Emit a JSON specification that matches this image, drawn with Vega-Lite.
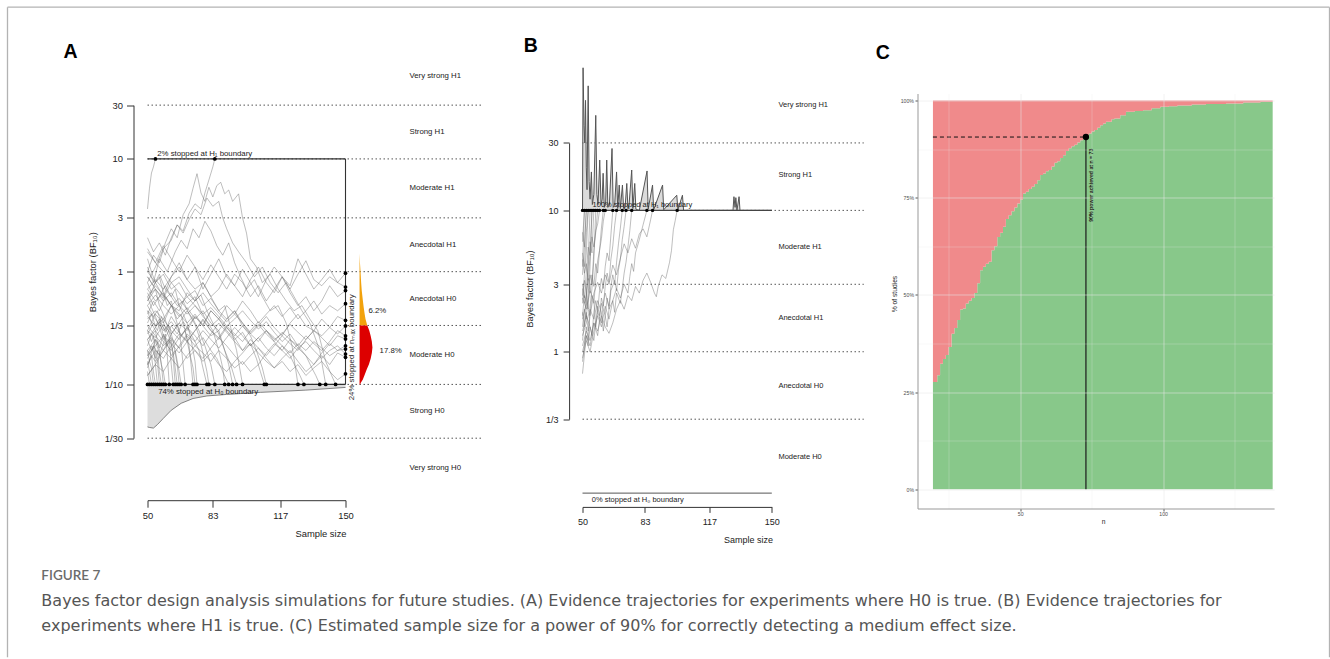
{
"$schema": "https://vega.github.io/schema/vega-lite/v6.json",
"padding": {"left": 6.5, "top": 6.5, "right": 0, "bottom": 0},
"bounds": "flush",
"spacing": 0,
"title": {"text": "FIGURE 7", "subtitle": ["Bayes factor design analysis simulations for future studies. (A) Evidence trajectories for experiments where H0 is true. (B) Evidence trajectories for", "experiments where H1 is true. (C) Estimated sample size for a power of 90% for correctly detecting a medium effect size."], "orient": "top", "anchor": "start", "frame": "bounds", "dx": 34.5, "dy": 631, "font": "Lato", "fontSize": 13.5, "fontWeight": 600, "color": "#6b6b6b", "subtitleFont": "DejaVu Sans", "subtitleFontSize": 16, "subtitleColor": "#555555", "subtitleLineHeight": 25, "subtitlePadding": 10},
"config": {"view": {"stroke": null}, "font": "Liberation Sans"},
"datasets": {
"levelsA": [{"bf":30},{"bf":10},{"bf":3},{"bf":1},{"bf":0.333333},{"bf":0.1},{"bf":0.0333333}],
"levelsB": [{"bf":30},{"bf":10},{"bf":3},{"bf":1},{"bf":0.333333}],
"catA": [{"lab":"Very strong H1","bf":54.77},{"lab":"Strong H1","bf":17.32},{"lab":"Moderate H1","bf":5.477},{"lab":"Anecdotal H1","bf":1.732},{"lab":"Anecdotal H0","bf":0.5774},{"lab":"Moderate H0","bf":0.1826},{"lab":"Strong H0","bf":0.05774},{"lab":"Very strong H0","bf":0.01826}],
"catB": [{"lab":"Very strong H1","bf":55.6},{"lab":"Strong H1","bf":17.8},{"lab":"Moderate H1","bf":5.47},{"lab":"Anecdotal H1","bf":1.73},{"lab":"Anecdotal H0","bf":0.575},{"lab":"Moderate H0","bf":0.181}],
"shadeA": [{"n":50,"bf":0.042},{"n":51,"bf":0.0415},{"n":53,"bf":0.041},{"n":55,"bf":0.044},{"n":58,"bf":0.05},{"n":62,"bf":0.059},{"n":67,"bf":0.068},{"n":73,"bf":0.075},{"n":80,"bf":0.079},{"n":90,"bf":0.0815},{"n":107,"bf":0.085},{"n":130,"bf":0.089},{"n":150,"bf":0.094}],
"violinOrange": [{"bf":1.45,"n":157.1},{"bf":1.2,"n":157.3},{"bf":1.0,"n":157.6},{"bf":0.8,"n":157.9},{"bf":0.68,"n":158.2},{"bf":0.55,"n":158.8},{"bf":0.48,"n":159.2},{"bf":0.42,"n":159.7},{"bf":0.38,"n":160.1},{"bf":0.3333,"n":161.0}],
"violinRed": [{"bf":0.3333,"n":161.0},{"bf":0.3,"n":162.0},{"bf":0.27,"n":162.7},{"bf":0.24,"n":163.3},{"bf":0.212,"n":163.6},{"bf":0.19,"n":163.3},{"bf":0.169,"n":162.7},{"bf":0.15,"n":161.8},{"bf":0.137,"n":160.8},{"bf":0.122,"n":159.7},{"bf":0.11,"n":158.7},{"bf":0.104,"n":157.8},{"bf":0.1,"n":157.4}],
"dotsA": [{"n":50,"bf":0.1},{"n":51,"bf":0.1},{"n":52,"bf":0.1},{"n":53,"bf":0.1},{"n":54,"bf":0.1},{"n":55,"bf":0.1},{"n":56,"bf":0.1},{"n":57,"bf":0.1},{"n":58,"bf":0.1},{"n":59,"bf":0.1},{"n":61,"bf":0.1},{"n":63,"bf":0.1},{"n":64,"bf":0.1},{"n":65,"bf":0.1},{"n":66,"bf":0.1},{"n":67,"bf":0.1},{"n":69,"bf":0.1},{"n":73,"bf":0.1},{"n":74,"bf":0.1},{"n":75,"bf":0.1},{"n":80,"bf":0.1},{"n":81,"bf":0.1},{"n":84,"bf":0.1},{"n":89,"bf":0.1},{"n":91,"bf":0.1},{"n":93,"bf":0.1},{"n":95,"bf":0.1},{"n":98,"bf":0.1},{"n":109,"bf":0.1},{"n":110,"bf":0.1},{"n":126,"bf":0.1},{"n":129,"bf":0.1},{"n":137,"bf":0.1},{"n":140,"bf":0.1},{"n":145,"bf":0.1},{"n":54,"bf":10},{"n":84,"bf":10},{"n":150,"bf":0.97},{"n":150,"bf":0.73},{"n":150,"bf":0.68},{"n":150,"bf":0.52},{"n":150,"bf":0.37},{"n":150,"bf":0.33},{"n":150,"bf":0.27},{"n":150,"bf":0.253},{"n":150,"bf":0.22},{"n":150,"bf":0.206},{"n":150,"bf":0.186},{"n":150,"bf":0.174},{"n":150,"bf":0.124}],
"trajA": [
{"id":"L1","n":50,"bf":0.55},{"id":"L1","n":54,"bf":0.8},{"id":"L1","n":58,"bf":0.6},{"id":"L1","n":62,"bf":0.9},{"id":"L1","n":66,"bf":1.2},{"id":"L1","n":70,"bf":0.85},{"id":"L1","n":74,"bf":1.1},{"id":"L1","n":78,"bf":0.7},{"id":"L1","n":82,"bf":0.95},{"id":"L1","n":86,"bf":1.3},{"id":"L1","n":90,"bf":0.9},{"id":"L1","n":94,"bf":0.75},{"id":"L1","n":98,"bf":1.05},{"id":"L1","n":102,"bf":0.8},{"id":"L1","n":106,"bf":0.6},{"id":"L1","n":110,"bf":0.85},{"id":"L1","n":114,"bf":1.1},{"id":"L1","n":118,"bf":0.9},{"id":"L1","n":122,"bf":0.7},{"id":"L1","n":126,"bf":0.95},{"id":"L1","n":130,"bf":1.25},{"id":"L1","n":134,"bf":0.85},{"id":"L1","n":138,"bf":0.75},{"id":"L1","n":142,"bf":0.9},{"id":"L1","n":146,"bf":0.8},{"id":"L1","n":150,"bf":0.97},
{"id":"L2","n":50,"bf":0.3},{"id":"L2","n":54,"bf":0.42},{"id":"L2","n":58,"bf":0.35},{"id":"L2","n":62,"bf":0.5},{"id":"L2","n":66,"bf":0.45},{"id":"L2","n":70,"bf":0.65},{"id":"L2","n":74,"bf":0.55},{"id":"L2","n":78,"bf":0.8},{"id":"L2","n":82,"bf":0.6},{"id":"L2","n":86,"bf":0.7},{"id":"L2","n":90,"bf":0.95},{"id":"L2","n":94,"bf":0.75},{"id":"L2","n":98,"bf":0.6},{"id":"L2","n":102,"bf":0.85},{"id":"L2","n":106,"bf":1.1},{"id":"L2","n":110,"bf":0.8},{"id":"L2","n":114,"bf":0.65},{"id":"L2","n":118,"bf":0.9},{"id":"L2","n":122,"bf":0.75},{"id":"L2","n":126,"bf":1.3},{"id":"L2","n":130,"bf":0.95},{"id":"L2","n":134,"bf":0.7},{"id":"L2","n":138,"bf":0.85},{"id":"L2","n":142,"bf":1.05},{"id":"L2","n":146,"bf":0.8},{"id":"L2","n":150,"bf":0.73},
{"id":"L3","n":50,"bf":1.5},{"id":"L3","n":54,"bf":1.2},{"id":"L3","n":58,"bf":1.7},{"id":"L3","n":62,"bf":1.3},{"id":"L3","n":66,"bf":1.0},{"id":"L3","n":70,"bf":1.4},{"id":"L3","n":74,"bf":1.1},{"id":"L3","n":78,"bf":0.85},{"id":"L3","n":82,"bf":1.15},{"id":"L3","n":86,"bf":0.9},{"id":"L3","n":90,"bf":0.7},{"id":"L3","n":94,"bf":0.95},{"id":"L3","n":98,"bf":0.8},{"id":"L3","n":102,"bf":0.6},{"id":"L3","n":106,"bf":0.75},{"id":"L3","n":110,"bf":0.55},{"id":"L3","n":114,"bf":0.7},{"id":"L3","n":118,"bf":0.9},{"id":"L3","n":122,"bf":0.65},{"id":"L3","n":126,"bf":0.5},{"id":"L3","n":130,"bf":0.6},{"id":"L3","n":134,"bf":0.45},{"id":"L3","n":138,"bf":0.55},{"id":"L3","n":142,"bf":0.75},{"id":"L3","n":146,"bf":0.6},{"id":"L3","n":150,"bf":0.68},
{"id":"L4","n":50,"bf":0.2},{"id":"L4","n":54,"bf":0.25},{"id":"L4","n":58,"bf":0.2},{"id":"L4","n":62,"bf":0.28},{"id":"L4","n":66,"bf":0.35},{"id":"L4","n":70,"bf":0.3},{"id":"L4","n":74,"bf":0.4},{"id":"L4","n":78,"bf":0.33},{"id":"L4","n":82,"bf":0.45},{"id":"L4","n":86,"bf":0.38},{"id":"L4","n":90,"bf":0.5},{"id":"L4","n":94,"bf":0.42},{"id":"L4","n":98,"bf":0.55},{"id":"L4","n":102,"bf":0.45},{"id":"L4","n":106,"bf":0.35},{"id":"L4","n":110,"bf":0.42},{"id":"L4","n":114,"bf":0.5},{"id":"L4","n":118,"bf":0.4},{"id":"L4","n":122,"bf":0.48},{"id":"L4","n":126,"bf":0.38},{"id":"L4","n":130,"bf":0.45},{"id":"L4","n":134,"bf":0.55},{"id":"L4","n":138,"bf":0.42},{"id":"L4","n":142,"bf":0.5},{"id":"L4","n":146,"bf":0.45},{"id":"L4","n":150,"bf":0.52},
{"id":"L5","n":50,"bf":0.7},{"id":"L5","n":54,"bf":0.55},{"id":"L5","n":58,"bf":0.65},{"id":"L5","n":62,"bf":0.5},{"id":"L5","n":66,"bf":0.4},{"id":"L5","n":70,"bf":0.48},{"id":"L5","n":74,"bf":0.38},{"id":"L5","n":78,"bf":0.45},{"id":"L5","n":82,"bf":0.35},{"id":"L5","n":86,"bf":0.3},{"id":"L5","n":90,"bf":0.38},{"id":"L5","n":94,"bf":0.45},{"id":"L5","n":98,"bf":0.35},{"id":"L5","n":102,"bf":0.28},{"id":"L5","n":106,"bf":0.33},{"id":"L5","n":110,"bf":0.4},{"id":"L5","n":114,"bf":0.32},{"id":"L5","n":118,"bf":0.27},{"id":"L5","n":122,"bf":0.35},{"id":"L5","n":126,"bf":0.42},{"id":"L5","n":130,"bf":0.33},{"id":"L5","n":134,"bf":0.3},{"id":"L5","n":138,"bf":0.38},{"id":"L5","n":142,"bf":0.32},{"id":"L5","n":146,"bf":0.4},{"id":"L5","n":150,"bf":0.37},
{"id":"L6","n":50,"bf":0.15},{"id":"L6","n":54,"bf":0.2},{"id":"L6","n":58,"bf":0.17},{"id":"L6","n":62,"bf":0.22},{"id":"L6","n":66,"bf":0.28},{"id":"L6","n":70,"bf":0.24},{"id":"L6","n":74,"bf":0.3},{"id":"L6","n":78,"bf":0.38},{"id":"L6","n":82,"bf":0.3},{"id":"L6","n":86,"bf":0.26},{"id":"L6","n":90,"bf":0.33},{"id":"L6","n":94,"bf":0.28},{"id":"L6","n":98,"bf":0.24},{"id":"L6","n":102,"bf":0.3},{"id":"L6","n":106,"bf":0.36},{"id":"L6","n":110,"bf":0.3},{"id":"L6","n":114,"bf":0.25},{"id":"L6","n":118,"bf":0.28},{"id":"L6","n":122,"bf":0.34},{"id":"L6","n":126,"bf":0.29},{"id":"L6","n":130,"bf":0.25},{"id":"L6","n":134,"bf":0.3},{"id":"L6","n":138,"bf":0.27},{"id":"L6","n":142,"bf":0.32},{"id":"L6","n":146,"bf":0.28},{"id":"L6","n":150,"bf":0.33},
{"id":"L7","n":50,"bf":0.9},{"id":"L7","n":54,"bf":0.7},{"id":"L7","n":58,"bf":0.55},{"id":"L7","n":62,"bf":0.65},{"id":"L7","n":66,"bf":0.5},{"id":"L7","n":70,"bf":0.42},{"id":"L7","n":74,"bf":0.5},{"id":"L7","n":78,"bf":0.4},{"id":"L7","n":82,"bf":0.33},{"id":"L7","n":86,"bf":0.38},{"id":"L7","n":90,"bf":0.3},{"id":"L7","n":94,"bf":0.25},{"id":"L7","n":98,"bf":0.29},{"id":"L7","n":102,"bf":0.22},{"id":"L7","n":106,"bf":0.26},{"id":"L7","n":110,"bf":0.3},{"id":"L7","n":114,"bf":0.24},{"id":"L7","n":118,"bf":0.2},{"id":"L7","n":122,"bf":0.25},{"id":"L7","n":126,"bf":0.22},{"id":"L7","n":130,"bf":0.27},{"id":"L7","n":134,"bf":0.23},{"id":"L7","n":138,"bf":0.2},{"id":"L7","n":142,"bf":0.24},{"id":"L7","n":146,"bf":0.3},{"id":"L7","n":150,"bf":0.27},
{"id":"L8","n":50,"bf":0.4},{"id":"L8","n":54,"bf":0.33},{"id":"L8","n":58,"bf":0.38},{"id":"L8","n":62,"bf":0.3},{"id":"L8","n":66,"bf":0.25},{"id":"L8","n":70,"bf":0.32},{"id":"L8","n":74,"bf":0.27},{"id":"L8","n":78,"bf":0.22},{"id":"L8","n":82,"bf":0.28},{"id":"L8","n":86,"bf":0.35},{"id":"L8","n":90,"bf":0.29},{"id":"L8","n":94,"bf":0.24},{"id":"L8","n":98,"bf":0.2},{"id":"L8","n":102,"bf":0.25},{"id":"L8","n":106,"bf":0.21},{"id":"L8","n":110,"bf":0.18},{"id":"L8","n":114,"bf":0.22},{"id":"L8","n":118,"bf":0.27},{"id":"L8","n":122,"bf":0.23},{"id":"L8","n":126,"bf":0.2},{"id":"L8","n":130,"bf":0.25},{"id":"L8","n":134,"bf":0.3},{"id":"L8","n":138,"bf":0.26},{"id":"L8","n":142,"bf":0.22},{"id":"L8","n":146,"bf":0.27},{"id":"L8","n":150,"bf":0.253},
{"id":"L9","n":50,"bf":0.25},{"id":"L9","n":54,"bf":0.3},{"id":"L9","n":58,"bf":0.24},{"id":"L9","n":62,"bf":0.2},{"id":"L9","n":66,"bf":0.26},{"id":"L9","n":70,"bf":0.32},{"id":"L9","n":74,"bf":0.4},{"id":"L9","n":78,"bf":0.34},{"id":"L9","n":82,"bf":0.45},{"id":"L9","n":86,"bf":0.38},{"id":"L9","n":90,"bf":0.32},{"id":"L9","n":94,"bf":0.27},{"id":"L9","n":98,"bf":0.33},{"id":"L9","n":102,"bf":0.28},{"id":"L9","n":106,"bf":0.24},{"id":"L9","n":110,"bf":0.3},{"id":"L9","n":114,"bf":0.26},{"id":"L9","n":118,"bf":0.22},{"id":"L9","n":122,"bf":0.19},{"id":"L9","n":126,"bf":0.23},{"id":"L9","n":130,"bf":0.2},{"id":"L9","n":134,"bf":0.24},{"id":"L9","n":138,"bf":0.21},{"id":"L9","n":142,"bf":0.18},{"id":"L9","n":146,"bf":0.2},{"id":"L9","n":150,"bf":0.22},
{"id":"L10","n":50,"bf":0.12},{"id":"L10","n":54,"bf":0.15},{"id":"L10","n":58,"bf":0.13},{"id":"L10","n":62,"bf":0.17},{"id":"L10","n":66,"bf":0.14},{"id":"L10","n":70,"bf":0.18},{"id":"L10","n":74,"bf":0.22},{"id":"L10","n":78,"bf":0.19},{"id":"L10","n":82,"bf":0.16},{"id":"L10","n":86,"bf":0.2},{"id":"L10","n":90,"bf":0.17},{"id":"L10","n":94,"bf":0.14},{"id":"L10","n":98,"bf":0.16},{"id":"L10","n":102,"bf":0.13},{"id":"L10","n":106,"bf":0.15},{"id":"L10","n":110,"bf":0.19},{"id":"L10","n":114,"bf":0.23},{"id":"L10","n":118,"bf":0.2},{"id":"L10","n":122,"bf":0.17},{"id":"L10","n":126,"bf":0.21},{"id":"L10","n":130,"bf":0.18},{"id":"L10","n":134,"bf":0.15},{"id":"L10","n":138,"bf":0.19},{"id":"L10","n":142,"bf":0.23},{"id":"L10","n":146,"bf":0.2},{"id":"L10","n":150,"bf":0.206},
{"id":"L11","n":50,"bf":0.6},{"id":"L11","n":54,"bf":0.75},{"id":"L11","n":58,"bf":0.62},{"id":"L11","n":62,"bf":0.5},{"id":"L11","n":66,"bf":0.58},{"id":"L11","n":70,"bf":0.46},{"id":"L11","n":74,"bf":0.55},{"id":"L11","n":78,"bf":0.65},{"id":"L11","n":82,"bf":0.52},{"id":"L11","n":86,"bf":0.43},{"id":"L11","n":90,"bf":0.36},{"id":"L11","n":94,"bf":0.42},{"id":"L11","n":98,"bf":0.35},{"id":"L11","n":102,"bf":0.29},{"id":"L11","n":106,"bf":0.34},{"id":"L11","n":110,"bf":0.28},{"id":"L11","n":114,"bf":0.24},{"id":"L11","n":118,"bf":0.29},{"id":"L11","n":122,"bf":0.25},{"id":"L11","n":126,"bf":0.21},{"id":"L11","n":130,"bf":0.24},{"id":"L11","n":134,"bf":0.2},{"id":"L11","n":138,"bf":0.17},{"id":"L11","n":142,"bf":0.2},{"id":"L11","n":146,"bf":0.22},{"id":"L11","n":150,"bf":0.186},
{"id":"L12","n":50,"bf":0.33},{"id":"L12","n":54,"bf":0.27},{"id":"L12","n":58,"bf":0.22},{"id":"L12","n":62,"bf":0.26},{"id":"L12","n":66,"bf":0.21},{"id":"L12","n":70,"bf":0.17},{"id":"L12","n":74,"bf":0.2},{"id":"L12","n":78,"bf":0.16},{"id":"L12","n":82,"bf":0.19},{"id":"L12","n":86,"bf":0.15},{"id":"L12","n":90,"bf":0.13},{"id":"L12","n":94,"bf":0.16},{"id":"L12","n":98,"bf":0.19},{"id":"L12","n":102,"bf":0.23},{"id":"L12","n":106,"bf":0.19},{"id":"L12","n":110,"bf":0.16},{"id":"L12","n":114,"bf":0.14},{"id":"L12","n":118,"bf":0.17},{"id":"L12","n":122,"bf":0.2},{"id":"L12","n":126,"bf":0.16},{"id":"L12","n":130,"bf":0.13},{"id":"L12","n":134,"bf":0.15},{"id":"L12","n":138,"bf":0.18},{"id":"L12","n":142,"bf":0.15},{"id":"L12","n":146,"bf":0.19},{"id":"L12","n":150,"bf":0.174},
{"id":"L13","n":50,"bf":0.18},{"id":"L13","n":54,"bf":0.22},{"id":"L13","n":58,"bf":0.27},{"id":"L13","n":62,"bf":0.23},{"id":"L13","n":66,"bf":0.19},{"id":"L13","n":70,"bf":0.24},{"id":"L13","n":74,"bf":0.2},{"id":"L13","n":78,"bf":0.17},{"id":"L13","n":82,"bf":0.21},{"id":"L13","n":86,"bf":0.26},{"id":"L13","n":90,"bf":0.22},{"id":"L13","n":94,"bf":0.18},{"id":"L13","n":98,"bf":0.15},{"id":"L13","n":102,"bf":0.18},{"id":"L13","n":106,"bf":0.21},{"id":"L13","n":110,"bf":0.17},{"id":"L13","n":114,"bf":0.14},{"id":"L13","n":118,"bf":0.16},{"id":"L13","n":122,"bf":0.13},{"id":"L13","n":126,"bf":0.15},{"id":"L13","n":130,"bf":0.12},{"id":"L13","n":134,"bf":0.14},{"id":"L13","n":138,"bf":0.16},{"id":"L13","n":142,"bf":0.13},{"id":"L13","n":146,"bf":0.11},{"id":"L13","n":150,"bf":0.124},
{"id":"T1","n":50,"bf":3.6},{"id":"T1","n":51,"bf":5.5},{"id":"T1","n":52,"bf":7.5},{"id":"T1","n":53,"bf":8.5},{"id":"T1","n":54,"bf":10},
{"id":"T2","n":50,"bf":2.0},{"id":"T2","n":53,"bf":1.5},{"id":"T2","n":56,"bf":1.8},{"id":"T2","n":59,"bf":1.4},{"id":"T2","n":62,"bf":2.0},{"id":"T2","n":65,"bf":2.6},{"id":"T2","n":68,"bf":2.3},{"id":"T2","n":71,"bf":3.3},{"id":"T2","n":74,"bf":4.0},{"id":"T2","n":77,"bf":3.6},{"id":"T2","n":79,"bf":5.0},{"id":"T2","n":81,"bf":6.5},{"id":"T2","n":83,"bf":8.5},{"id":"T2","n":84,"bf":10},
{"id":"U1","n":50,"bf":1.0},{"id":"U1","n":53,"bf":1.4},{"id":"U1","n":56,"bf":1.2},{"id":"U1","n":59,"bf":1.8},{"id":"U1","n":62,"bf":2.4},{"id":"U1","n":65,"bf":2.0},{"id":"U1","n":68,"bf":3.2},{"id":"U1","n":71,"bf":4.0},{"id":"U1","n":73,"bf":5.5},{"id":"U1","n":75,"bf":7.4},{"id":"U1","n":77,"bf":5.0},{"id":"U1","n":79,"bf":4.2},{"id":"U1","n":81,"bf":5.6},{"id":"U1","n":83,"bf":4.6},{"id":"U1","n":85,"bf":5.8},{"id":"U1","n":87,"bf":6.2},{"id":"U1","n":89,"bf":4.9},{"id":"U1","n":91,"bf":5.3},{"id":"U1","n":93,"bf":4.2},{"id":"U1","n":96,"bf":4.9},{"id":"U1","n":98,"bf":3.0},{"id":"U1","n":100,"bf":2.2},{"id":"U1","n":102,"bf":1.3},{"id":"U1","n":105,"bf":1.1},{"id":"U1","n":108,"bf":0.8},{"id":"U1","n":112,"bf":0.95},{"id":"U1","n":116,"bf":0.7},{"id":"U1","n":120,"bf":0.55},{"id":"U1","n":124,"bf":0.45},{"id":"U1","n":128,"bf":0.5},{"id":"U1","n":132,"bf":0.38},{"id":"U1","n":136,"bf":0.3},{"id":"U1","n":140,"bf":0.16},{"id":"U1","n":143,"bf":0.12},{"id":"U1","n":145,"bf":0.1},
{"id":"U2","n":50,"bf":0.8},{"id":"U2","n":54,"bf":1.1},{"id":"U2","n":58,"bf":1.6},{"id":"U2","n":62,"bf":1.9},{"id":"U2","n":65,"bf":2.6},{"id":"U2","n":68,"bf":2.2},{"id":"U2","n":71,"bf":2.9},{"id":"U2","n":74,"bf":3.6},{"id":"U2","n":77,"bf":3.2},{"id":"U2","n":80,"bf":4.5},{"id":"U2","n":83,"bf":3.8},{"id":"U2","n":86,"bf":4.2},{"id":"U2","n":88,"bf":3.0},{"id":"U2","n":90,"bf":2.4},{"id":"U2","n":93,"bf":1.8},{"id":"U2","n":96,"bf":1.5},{"id":"U2","n":100,"bf":1.2},{"id":"U2","n":104,"bf":0.9},{"id":"U2","n":108,"bf":1.1},{"id":"U2","n":112,"bf":0.8},{"id":"U2","n":116,"bf":0.65},{"id":"U2","n":120,"bf":0.8},{"id":"U2","n":124,"bf":0.6},{"id":"U2","n":128,"bf":0.45},{"id":"U2","n":132,"bf":0.35},{"id":"U2","n":137,"bf":0.2},{"id":"U2","n":140,"bf":0.1},
{"id":"U3","n":50,"bf":1.1},{"id":"U3","n":53,"bf":0.8},{"id":"U3","n":56,"bf":1.3},{"id":"U3","n":60,"bf":1.0},{"id":"U3","n":64,"bf":1.5},{"id":"U3","n":67,"bf":1.9},{"id":"U3","n":70,"bf":1.6},{"id":"U3","n":73,"bf":2.4},{"id":"U3","n":76,"bf":2.0},{"id":"U3","n":79,"bf":2.8},{"id":"U3","n":82,"bf":2.3},{"id":"U3","n":85,"bf":1.7},{"id":"U3","n":88,"bf":1.4},{"id":"U3","n":91,"bf":1.8},{"id":"U3","n":94,"bf":1.2},{"id":"U3","n":97,"bf":0.9},{"id":"U3","n":100,"bf":0.7},{"id":"U3","n":104,"bf":0.85},{"id":"U3","n":108,"bf":0.6},{"id":"U3","n":112,"bf":0.45},{"id":"U3","n":116,"bf":0.5},{"id":"U3","n":120,"bf":0.35},{"id":"U3","n":123,"bf":0.22},{"id":"U3","n":126,"bf":0.1},
{"id":"S51","n":50,"bf":0.13},{"id":"S51","n":51,"bf":0.1},
{"id":"S52","n":50,"bf":0.16},{"id":"S52","n":51,"bf":0.13},{"id":"S52","n":52,"bf":0.1},
{"id":"S53","n":50,"bf":0.2},{"id":"S53","n":51,"bf":0.16},{"id":"S53","n":52,"bf":0.14},{"id":"S53","n":53,"bf":0.1},
{"id":"S54","n":50,"bf":0.15},{"id":"S54","n":52,"bf":0.18},{"id":"S54","n":53,"bf":0.13},{"id":"S54","n":54,"bf":0.1},
{"id":"S55","n":50,"bf":0.25},{"id":"S55","n":52,"bf":0.2},{"id":"S55","n":53,"bf":0.22},{"id":"S55","n":54,"bf":0.15},{"id":"S55","n":55,"bf":0.1},
{"id":"S56","n":50,"bf":0.3},{"id":"S56","n":52,"bf":0.24},{"id":"S56","n":53,"bf":0.27},{"id":"S56","n":54,"bf":0.19},{"id":"S56","n":55,"bf":0.16},{"id":"S56","n":56,"bf":0.1},
{"id":"S57","n":50,"bf":0.18},{"id":"S57","n":52,"bf":0.22},{"id":"S57","n":54,"bf":0.17},{"id":"S57","n":55,"bf":0.2},{"id":"S57","n":56,"bf":0.13},{"id":"S57","n":57,"bf":0.1},
{"id":"S58","n":50,"bf":0.45},{"id":"S58","n":52,"bf":0.35},{"id":"S58","n":54,"bf":0.3},{"id":"S58","n":55,"bf":0.24},{"id":"S58","n":56,"bf":0.2},{"id":"S58","n":57,"bf":0.15},{"id":"S58","n":58,"bf":0.1},
{"id":"S59","n":50,"bf":0.22},{"id":"S59","n":52,"bf":0.28},{"id":"S59","n":54,"bf":0.24},{"id":"S59","n":56,"bf":0.19},{"id":"S59","n":57,"bf":0.15},{"id":"S59","n":58,"bf":0.13},{"id":"S59","n":59,"bf":0.1},
{"id":"S61","n":50,"bf":0.6},{"id":"S61","n":52,"bf":0.48},{"id":"S61","n":54,"bf":0.4},{"id":"S61","n":56,"bf":0.32},{"id":"S61","n":58,"bf":0.25},{"id":"S61","n":59,"bf":0.28},{"id":"S61","n":60,"bf":0.18},{"id":"S61","n":61,"bf":0.1},
{"id":"S63","n":50,"bf":0.35},{"id":"S63","n":52,"bf":0.42},{"id":"S63","n":54,"bf":0.33},{"id":"S63","n":56,"bf":0.38},{"id":"S63","n":58,"bf":0.27},{"id":"S63","n":60,"bf":0.22},{"id":"S63","n":61,"bf":0.25},{"id":"S63","n":62,"bf":0.15},{"id":"S63","n":63,"bf":0.1},
{"id":"S64","n":50,"bf":0.8},{"id":"S64","n":52,"bf":0.65},{"id":"S64","n":54,"bf":0.7},{"id":"S64","n":56,"bf":0.5},{"id":"S64","n":58,"bf":0.42},{"id":"S64","n":60,"bf":0.33},{"id":"S64","n":62,"bf":0.25},{"id":"S64","n":63,"bf":0.17},{"id":"S64","n":64,"bf":0.1},
{"id":"S65","n":50,"bf":0.28},{"id":"S65","n":53,"bf":0.35},{"id":"S65","n":55,"bf":0.3},{"id":"S65","n":57,"bf":0.4},{"id":"S65","n":59,"bf":0.32},{"id":"S65","n":61,"bf":0.26},{"id":"S65","n":63,"bf":0.19},{"id":"S65","n":64,"bf":0.14},{"id":"S65","n":65,"bf":0.1},
{"id":"S66","n":50,"bf":0.5},{"id":"S66","n":53,"bf":0.4},{"id":"S66","n":55,"bf":0.45},{"id":"S66","n":57,"bf":0.35},{"id":"S66","n":59,"bf":0.29},{"id":"S66","n":61,"bf":0.33},{"id":"S66","n":63,"bf":0.24},{"id":"S66","n":65,"bf":0.15},{"id":"S66","n":66,"bf":0.1},
{"id":"S67","n":50,"bf":0.14},{"id":"S67","n":52,"bf":0.19},{"id":"S67","n":54,"bf":0.25},{"id":"S67","n":56,"bf":0.21},{"id":"S67","n":58,"bf":0.28},{"id":"S67","n":60,"bf":0.23},{"id":"S67","n":62,"bf":0.18},{"id":"S67","n":64,"bf":0.2},{"id":"S67","n":66,"bf":0.13},{"id":"S67","n":67,"bf":0.1},
{"id":"S69","n":50,"bf":1.3},{"id":"S69","n":52,"bf":1.0},{"id":"S69","n":54,"bf":0.8},{"id":"S69","n":56,"bf":0.9},{"id":"S69","n":58,"bf":0.65},{"id":"S69","n":60,"bf":0.5},{"id":"S69","n":62,"bf":0.55},{"id":"S69","n":64,"bf":0.4},{"id":"S69","n":66,"bf":0.3},{"id":"S69","n":67,"bf":0.22},{"id":"S69","n":68,"bf":0.15},{"id":"S69","n":69,"bf":0.1},
{"id":"S73","n":50,"bf":0.42},{"id":"S73","n":53,"bf":0.55},{"id":"S73","n":56,"bf":0.45},{"id":"S73","n":59,"bf":0.6},{"id":"S73","n":62,"bf":0.5},{"id":"S73","n":65,"bf":0.38},{"id":"S73","n":67,"bf":0.42},{"id":"S73","n":69,"bf":0.3},{"id":"S73","n":71,"bf":0.22},{"id":"S73","n":72,"bf":0.15},{"id":"S73","n":73,"bf":0.1},
{"id":"S74","n":50,"bf":0.25},{"id":"S74","n":53,"bf":0.3},{"id":"S74","n":56,"bf":0.36},{"id":"S74","n":59,"bf":0.3},{"id":"S74","n":62,"bf":0.4},{"id":"S74","n":65,"bf":0.33},{"id":"S74","n":67,"bf":0.27},{"id":"S74","n":69,"bf":0.3},{"id":"S74","n":71,"bf":0.2},{"id":"S74","n":73,"bf":0.14},{"id":"S74","n":74,"bf":0.1},
{"id":"S75","n":50,"bf":0.9},{"id":"S75","n":53,"bf":0.75},{"id":"S75","n":56,"bf":0.95},{"id":"S75","n":59,"bf":0.7},{"id":"S75","n":62,"bf":0.6},{"id":"S75","n":64,"bf":0.7},{"id":"S75","n":66,"bf":0.5},{"id":"S75","n":68,"bf":0.42},{"id":"S75","n":70,"bf":0.35},{"id":"S75","n":72,"bf":0.25},{"id":"S75","n":74,"bf":0.16},{"id":"S75","n":75,"bf":0.1},
{"id":"S80","n":50,"bf":0.17},{"id":"S80","n":53,"bf":0.22},{"id":"S80","n":56,"bf":0.18},{"id":"S80","n":59,"bf":0.26},{"id":"S80","n":62,"bf":0.33},{"id":"S80","n":65,"bf":0.28},{"id":"S80","n":68,"bf":0.36},{"id":"S80","n":71,"bf":0.3},{"id":"S80","n":74,"bf":0.24},{"id":"S80","n":76,"bf":0.2},{"id":"S80","n":78,"bf":0.14},{"id":"S80","n":80,"bf":0.1},
{"id":"S81","n":50,"bf":0.65},{"id":"S81","n":53,"bf":0.5},{"id":"S81","n":56,"bf":0.6},{"id":"S81","n":59,"bf":0.75},{"id":"S81","n":62,"bf":0.6},{"id":"S81","n":65,"bf":0.5},{"id":"S81","n":68,"bf":0.55},{"id":"S81","n":71,"bf":0.42},{"id":"S81","n":74,"bf":0.34},{"id":"S81","n":76,"bf":0.27},{"id":"S81","n":78,"bf":0.19},{"id":"S81","n":80,"bf":0.13},{"id":"S81","n":81,"bf":0.1},
{"id":"S84","n":50,"bf":0.3},{"id":"S84","n":54,"bf":0.26},{"id":"S84","n":58,"bf":0.34},{"id":"S84","n":62,"bf":0.28},{"id":"S84","n":66,"bf":0.35},{"id":"S84","n":70,"bf":0.45},{"id":"S84","n":73,"bf":0.38},{"id":"S84","n":76,"bf":0.3},{"id":"S84","n":79,"bf":0.22},{"id":"S84","n":82,"bf":0.15},{"id":"S84","n":84,"bf":0.1},
{"id":"S89","n":50,"bf":0.55},{"id":"S89","n":54,"bf":0.7},{"id":"S89","n":58,"bf":0.58},{"id":"S89","n":62,"bf":0.8},{"id":"S89","n":66,"bf":0.65},{"id":"S89","n":70,"bf":0.52},{"id":"S89","n":74,"bf":0.6},{"id":"S89","n":77,"bf":0.45},{"id":"S89","n":80,"bf":0.36},{"id":"S89","n":83,"bf":0.3},{"id":"S89","n":86,"bf":0.2},{"id":"S89","n":88,"bf":0.14},{"id":"S89","n":89,"bf":0.1},
{"id":"S91","n":50,"bf":0.2},{"id":"S91","n":54,"bf":0.16},{"id":"S91","n":58,"bf":0.2},{"id":"S91","n":62,"bf":0.25},{"id":"S91","n":66,"bf":0.21},{"id":"S91","n":70,"bf":0.27},{"id":"S91","n":74,"bf":0.22},{"id":"S91","n":78,"bf":0.26},{"id":"S91","n":82,"bf":0.2},{"id":"S91","n":85,"bf":0.17},{"id":"S91","n":88,"bf":0.13},{"id":"S91","n":91,"bf":0.1},
{"id":"S93","n":50,"bf":1.6},{"id":"S93","n":54,"bf":1.2},{"id":"S93","n":58,"bf":1.0},{"id":"S93","n":62,"bf":0.8},{"id":"S93","n":66,"bf":0.9},{"id":"S93","n":70,"bf":0.7},{"id":"S93","n":74,"bf":0.55},{"id":"S93","n":77,"bf":0.62},{"id":"S93","n":80,"bf":0.45},{"id":"S93","n":83,"bf":0.35},{"id":"S93","n":86,"bf":0.28},{"id":"S93","n":89,"bf":0.2},{"id":"S93","n":91,"bf":0.15},{"id":"S93","n":93,"bf":0.1},
{"id":"S95","n":50,"bf":0.38},{"id":"S95","n":54,"bf":0.45},{"id":"S95","n":58,"bf":0.38},{"id":"S95","n":62,"bf":0.5},{"id":"S95","n":66,"bf":0.42},{"id":"S95","n":70,"bf":0.35},{"id":"S95","n":74,"bf":0.42},{"id":"S95","n":78,"bf":0.33},{"id":"S95","n":82,"bf":0.27},{"id":"S95","n":86,"bf":0.3},{"id":"S95","n":89,"bf":0.2},{"id":"S95","n":92,"bf":0.15},{"id":"S95","n":95,"bf":0.1},
{"id":"S98","n":50,"bf":0.7},{"id":"S98","n":54,"bf":0.85},{"id":"S98","n":58,"bf":0.7},{"id":"S98","n":62,"bf":0.9},{"id":"S98","n":66,"bf":1.1},{"id":"S98","n":70,"bf":0.85},{"id":"S98","n":74,"bf":0.7},{"id":"S98","n":78,"bf":0.8},{"id":"S98","n":82,"bf":0.6},{"id":"S98","n":86,"bf":0.45},{"id":"S98","n":89,"bf":0.5},{"id":"S98","n":92,"bf":0.32},{"id":"S98","n":95,"bf":0.2},{"id":"S98","n":98,"bf":0.1},
{"id":"S109","n":50,"bf":0.45},{"id":"S109","n":54,"bf":0.38},{"id":"S109","n":58,"bf":0.3},{"id":"S109","n":62,"bf":0.36},{"id":"S109","n":66,"bf":0.29},{"id":"S109","n":70,"bf":0.24},{"id":"S109","n":74,"bf":0.3},{"id":"S109","n":78,"bf":0.37},{"id":"S109","n":82,"bf":0.3},{"id":"S109","n":86,"bf":0.25},{"id":"S109","n":90,"bf":0.32},{"id":"S109","n":94,"bf":0.26},{"id":"S109","n":98,"bf":0.2},{"id":"S109","n":102,"bf":0.23},{"id":"S109","n":105,"bf":0.17},{"id":"S109","n":107,"bf":0.13},{"id":"S109","n":109,"bf":0.1},
{"id":"S110","n":50,"bf":1.0},{"id":"S110","n":54,"bf":0.8},{"id":"S110","n":58,"bf":0.95},{"id":"S110","n":62,"bf":0.7},{"id":"S110","n":66,"bf":0.8},{"id":"S110","n":70,"bf":0.6},{"id":"S110","n":74,"bf":0.68},{"id":"S110","n":78,"bf":0.5},{"id":"S110","n":82,"bf":0.58},{"id":"S110","n":86,"bf":0.45},{"id":"S110","n":90,"bf":0.38},{"id":"S110","n":94,"bf":0.45},{"id":"S110","n":98,"bf":0.33},{"id":"S110","n":102,"bf":0.27},{"id":"S110","n":105,"bf":0.2},{"id":"S110","n":108,"bf":0.14},{"id":"S110","n":110,"bf":0.1},
{"id":"S129","n":50,"bf":0.12},{"id":"S129","n":54,"bf":0.15},{"id":"S129","n":58,"bf":0.2},{"id":"S129","n":62,"bf":0.17},{"id":"S129","n":66,"bf":0.22},{"id":"S129","n":70,"bf":0.28},{"id":"S129","n":74,"bf":0.24},{"id":"S129","n":78,"bf":0.3},{"id":"S129","n":82,"bf":0.25},{"id":"S129","n":86,"bf":0.21},{"id":"S129","n":90,"bf":0.26},{"id":"S129","n":94,"bf":0.32},{"id":"S129","n":98,"bf":0.27},{"id":"S129","n":102,"bf":0.22},{"id":"S129","n":106,"bf":0.26},{"id":"S129","n":110,"bf":0.21},{"id":"S129","n":114,"bf":0.18},{"id":"S129","n":118,"bf":0.22},{"id":"S129","n":122,"bf":0.18},{"id":"S129","n":125,"bf":0.14},{"id":"S129","n":127,"bf":0.12},{"id":"S129","n":129,"bf":0.1},
{"id":"S137","n":50,"bf":0.5},{"id":"S137","n":54,"bf":0.62},{"id":"S137","n":58,"bf":0.5},{"id":"S137","n":62,"bf":0.42},{"id":"S137","n":66,"bf":0.5},{"id":"S137","n":70,"bf":0.6},{"id":"S137","n":74,"bf":0.5},{"id":"S137","n":78,"bf":0.42},{"id":"S137","n":82,"bf":0.48},{"id":"S137","n":86,"bf":0.4},{"id":"S137","n":90,"bf":0.33},{"id":"S137","n":94,"bf":0.38},{"id":"S137","n":98,"bf":0.45},{"id":"S137","n":102,"bf":0.37},{"id":"S137","n":106,"bf":0.31},{"id":"S137","n":110,"bf":0.36},{"id":"S137","n":114,"bf":0.29},{"id":"S137","n":118,"bf":0.24},{"id":"S137","n":122,"bf":0.28},{"id":"S137","n":126,"bf":0.22},{"id":"S137","n":130,"bf":0.18},{"id":"S137","n":133,"bf":0.14},{"id":"S137","n":135,"bf":0.12},{"id":"S137","n":137,"bf":0.1}
],
"spikesB": [{"n":50,"bf":10},{"n":50.3,"bf":102},{"n":50.8,"bf":40},{"n":51.2,"bf":30},{"n":51.6,"bf":60},{"n":52,"bf":20},{"n":52.4,"bf":14},{"n":53,"bf":76},{"n":53.5,"bf":16},{"n":54,"bf":12},{"n":54.7,"bf":18.7},{"n":55.2,"bf":11},{"n":56,"bf":13},{"n":57,"bf":47},{"n":57.6,"bf":13},{"n":58.2,"bf":11},{"n":59.1,"bf":22.7},{"n":59.8,"bf":11},{"n":60.4,"bf":12},{"n":60.9,"bf":18.3},{"n":61.5,"bf":10.5},{"n":62.2,"bf":11},{"n":62.8,"bf":22.7},{"n":63.4,"bf":10.5},{"n":64.2,"bf":11},{"n":65.6,"bf":27.4},{"n":66.2,"bf":10.5},{"n":67,"bf":11},{"n":68,"bf":18.7},{"n":68.6,"bf":10.3},{"n":69.4,"bf":15.1},{"n":70,"bf":10.3},{"n":71.1,"bf":15.1},{"n":71.7,"bf":10.3},{"n":72.5,"bf":10.5},{"n":73.4,"bf":15.5},{"n":74,"bf":10.3},{"n":74.6,"bf":11},{"n":76,"bf":19.3},{"n":76.6,"bf":10.3},{"n":77.6,"bf":15.5},{"n":78.2,"bf":10.2},{"n":80,"bf":10},{"n":84.1,"bf":19},{"n":84.7,"bf":10.2},{"n":87,"bf":15.1},{"n":87.6,"bf":10.1},{"n":92.3,"bf":15.1},{"n":92.9,"bf":10.1},{"n":99.8,"bf":12.8},{"n":100.4,"bf":10.1},{"n":102.8,"bf":12.8},{"n":103.4,"bf":10},{"n":129.5,"bf":10},{"n":130,"bf":12.5},{"n":130.6,"bf":10.5},{"n":131,"bf":12.3},{"n":131.6,"bf":10},{"n":132.7,"bf":12.5},{"n":133.2,"bf":10},{"n":150,"bf":10}],
"dotsB": [{"n":50,"bf":10},{"n":51,"bf":10},{"n":52,"bf":10},{"n":53,"bf":10},{"n":54,"bf":10},{"n":55,"bf":10},{"n":56,"bf":10},{"n":57,"bf":10},{"n":58,"bf":10},{"n":59,"bf":10},{"n":61,"bf":10},{"n":62,"bf":10},{"n":66,"bf":10},{"n":68,"bf":10},{"n":71,"bf":10},{"n":73,"bf":10},{"n":76,"bf":10},{"n":84,"bf":10},{"n":87,"bf":10},{"n":100,"bf":10}],
"trajB": [
{"id":"B2","n":50,"bf":6},{"id":"B2","n":51,"bf":10},
{"id":"B3","n":50,"bf":4},{"id":"B3","n":51,"bf":10},
{"id":"B4","n":50,"bf":3.5},{"id":"B4","n":51,"bf":5.5},{"id":"B4","n":52,"bf":10},
{"id":"B5","n":50,"bf":7},{"id":"B5","n":51,"bf":5.5},{"id":"B5","n":52,"bf":10},
{"id":"B6","n":50,"bf":2.2},{"id":"B6","n":51,"bf":3.5},{"id":"B6","n":52,"bf":5},{"id":"B6","n":53,"bf":10},
{"id":"B7","n":50,"bf":5},{"id":"B7","n":51,"bf":4},{"id":"B7","n":52,"bf":7},{"id":"B7","n":53,"bf":10},
{"id":"B8","n":50,"bf":1.8},{"id":"B8","n":51,"bf":2.5},{"id":"B8","n":52,"bf":2.2},{"id":"B8","n":53,"bf":4.5},{"id":"B8","n":54,"bf":10},
{"id":"B9","n":50,"bf":3},{"id":"B9","n":51,"bf":2.4},{"id":"B9","n":52,"bf":3.6},{"id":"B9","n":53,"bf":5.5},{"id":"B9","n":54,"bf":4.8},{"id":"B9","n":55,"bf":10},
{"id":"B10","n":50,"bf":1.2},{"id":"B10","n":51,"bf":1.6},{"id":"B10","n":52,"bf":2.6},{"id":"B10","n":53,"bf":2.0},{"id":"B10","n":54,"bf":4.0},{"id":"B10","n":55,"bf":10},
{"id":"B11","n":50,"bf":2.5},{"id":"B11","n":51,"bf":3.2},{"id":"B11","n":52,"bf":2.6},{"id":"B11","n":53,"bf":4},{"id":"B11","n":54,"bf":6},{"id":"B11","n":55,"bf":5},{"id":"B11","n":56,"bf":10},
{"id":"B12","n":50,"bf":0.85},{"id":"B12","n":51,"bf":1.1},{"id":"B12","n":52,"bf":1.5},{"id":"B12","n":53,"bf":1.2},{"id":"B12","n":54,"bf":2.1},{"id":"B12","n":55,"bf":2.8},{"id":"B12","n":56,"bf":4.5},{"id":"B12","n":57,"bf":10},
{"id":"B13","n":50,"bf":1.5},{"id":"B13","n":51,"bf":2},{"id":"B13","n":52,"bf":1.7},{"id":"B13","n":53,"bf":2.6},{"id":"B13","n":54,"bf":3.5},{"id":"B13","n":55,"bf":3},{"id":"B13","n":56,"bf":5.2},{"id":"B13","n":57,"bf":7},{"id":"B13","n":58,"bf":10},
{"id":"B14","n":50,"bf":4.5},{"id":"B14","n":51,"bf":3.6},{"id":"B14","n":52,"bf":4.2},{"id":"B14","n":53,"bf":3.2},{"id":"B14","n":54,"bf":4.8},{"id":"B14","n":55,"bf":6.5},{"id":"B14","n":56,"bf":5.5},{"id":"B14","n":57,"bf":7.2},{"id":"B14","n":58,"bf":8},{"id":"B14","n":59,"bf":10},
{"id":"B15","n":50,"bf":1.9},{"id":"B15","n":51,"bf":1.5},{"id":"B15","n":52,"bf":1.9},{"id":"B15","n":53,"bf":1.4},{"id":"B15","n":54,"bf":1.8},{"id":"B15","n":55,"bf":2.5},{"id":"B15","n":56,"bf":2.2},{"id":"B15","n":57,"bf":3.2},{"id":"B15","n":58,"bf":4.4},{"id":"B15","n":59,"bf":5.2},{"id":"B15","n":60,"bf":7.5},{"id":"B15","n":61,"bf":10},
{"id":"B16","n":50,"bf":2.8},{"id":"B16","n":51,"bf":2.2},{"id":"B16","n":52,"bf":2.5},{"id":"B16","n":53,"bf":3.3},{"id":"B16","n":54,"bf":2.6},{"id":"B16","n":55,"bf":3.5},{"id":"B16","n":56,"bf":2.9},{"id":"B16","n":57,"bf":4.2},{"id":"B16","n":58,"bf":3.6},{"id":"B16","n":59,"bf":5.2},{"id":"B16","n":60,"bf":6.3},{"id":"B16","n":61,"bf":8.4},{"id":"B16","n":62,"bf":10},
{"id":"B17","n":50,"bf":0.7},{"id":"B17","n":51,"bf":0.95},{"id":"B17","n":52,"bf":1.3},{"id":"B17","n":53,"bf":1.1},{"id":"B17","n":54,"bf":1.5},{"id":"B17","n":55,"bf":1.3},{"id":"B17","n":56,"bf":1.9},{"id":"B17","n":57,"bf":2.3},{"id":"B17","n":58,"bf":1.9},{"id":"B17","n":59,"bf":2.7},{"id":"B17","n":60,"bf":3.3},{"id":"B17","n":61,"bf":2.8},{"id":"B17","n":62,"bf":4},{"id":"B17","n":63,"bf":5},{"id":"B17","n":64,"bf":4.4},{"id":"B17","n":65,"bf":6.7},{"id":"B17","n":66,"bf":10},
{"id":"B18","n":50,"bf":1.4},{"id":"B18","n":52,"bf":1.8},{"id":"B18","n":54,"bf":1.5},{"id":"B18","n":56,"bf":1.2},{"id":"B18","n":57,"bf":1.6},{"id":"B18","n":58,"bf":2.1},{"id":"B18","n":59,"bf":1.8},{"id":"B18","n":60,"bf":2.4},{"id":"B18","n":61,"bf":2.1},{"id":"B18","n":62,"bf":2.9},{"id":"B18","n":63,"bf":3.6},{"id":"B18","n":64,"bf":3.1},{"id":"B18","n":65,"bf":4.5},{"id":"B18","n":66,"bf":5.6},{"id":"B18","n":67,"bf":7.8},{"id":"B18","n":68,"bf":10},
{"id":"B19","n":50,"bf":2.4},{"id":"B19","n":52,"bf":2.0},{"id":"B19","n":54,"bf":2.7},{"id":"B19","n":56,"bf":2.3},{"id":"B19","n":57,"bf":1.5},{"id":"B19","n":58,"bf":1.9},{"id":"B19","n":60,"bf":1.6},{"id":"B19","n":61,"bf":2.2},{"id":"B19","n":62,"bf":2.6},{"id":"B19","n":64,"bf":2.1},{"id":"B19","n":65,"bf":2.9},{"id":"B19","n":66,"bf":3.5},{"id":"B19","n":67,"bf":3.0},{"id":"B19","n":68,"bf":4.3},{"id":"B19","n":69,"bf":5.8},{"id":"B19","n":70,"bf":7.5},{"id":"B19","n":71,"bf":10},
{"id":"B20","n":50,"bf":1.0},{"id":"B20","n":52,"bf":1.3},{"id":"B20","n":54,"bf":1.1},{"id":"B20","n":56,"bf":1.6},{"id":"B20","n":58,"bf":1.3},{"id":"B20","n":59,"bf":1.7},{"id":"B20","n":60,"bf":2.2},{"id":"B20","n":62,"bf":1.8},{"id":"B20","n":63,"bf":2.4},{"id":"B20","n":64,"bf":2.0},{"id":"B20","n":65,"bf":2.7},{"id":"B20","n":67,"bf":3.2},{"id":"B20","n":68,"bf":2.7},{"id":"B20","n":69,"bf":3.8},{"id":"B20","n":70,"bf":4.5},{"id":"B20","n":71,"bf":6.2},{"id":"B20","n":72,"bf":7.7},{"id":"B20","n":73,"bf":10},
{"id":"B21","n":50,"bf":1.3},{"id":"B21","n":52,"bf":1.6},{"id":"B21","n":54,"bf":2.0},{"id":"B21","n":56,"bf":1.7},{"id":"B21","n":58,"bf":2.3},{"id":"B21","n":60,"bf":1.9},{"id":"B21","n":61,"bf":1.4},{"id":"B21","n":62,"bf":1.8},{"id":"B21","n":63,"bf":1.5},{"id":"B21","n":64,"bf":2.0},{"id":"B21","n":66,"bf":2.3},{"id":"B21","n":67,"bf":1.9},{"id":"B21","n":68,"bf":2.6},{"id":"B21","n":70,"bf":2.2},{"id":"B21","n":71,"bf":2.8},{"id":"B21","n":72,"bf":3.6},{"id":"B21","n":73,"bf":4.3},{"id":"B21","n":74,"bf":5.5},{"id":"B21","n":75,"bf":7.2},{"id":"B21","n":76,"bf":10},
{"id":"B22","n":50,"bf":0.9},{"id":"B22","n":52,"bf":1.2},{"id":"B22","n":54,"bf":1.0},{"id":"B22","n":56,"bf":1.4},{"id":"B22","n":58,"bf":1.8},{"id":"B22","n":60,"bf":1.5},{"id":"B22","n":62,"bf":2.1},{"id":"B22","n":64,"bf":1.7},{"id":"B22","n":66,"bf":2.3},{"id":"B22","n":68,"bf":2.8},{"id":"B22","n":70,"bf":2.4},{"id":"B22","n":72,"bf":3.0},{"id":"B22","n":74,"bf":2.6},{"id":"B22","n":75,"bf":3.4},{"id":"B22","n":76,"bf":4.2},{"id":"B22","n":77,"bf":3.7},{"id":"B22","n":78,"bf":5.0},{"id":"B22","n":80,"bf":6.2},{"id":"B22","n":82,"bf":7.9},{"id":"B22","n":84,"bf":10},
{"id":"B23","n":50,"bf":1.7},{"id":"B23","n":52,"bf":2.2},{"id":"B23","n":54,"bf":1.8},{"id":"B23","n":56,"bf":2.6},{"id":"B23","n":58,"bf":3.1},{"id":"B23","n":60,"bf":2.6},{"id":"B23","n":62,"bf":3.5},{"id":"B23","n":64,"bf":3.0},{"id":"B23","n":66,"bf":4.1},{"id":"B23","n":68,"bf":3.5},{"id":"B23","n":70,"bf":4.6},{"id":"B23","n":72,"bf":5.8},{"id":"B23","n":74,"bf":5.0},{"id":"B23","n":76,"bf":6.3},{"id":"B23","n":78,"bf":5.4},{"id":"B23","n":80,"bf":6.8},{"id":"B23","n":82,"bf":7.4},{"id":"B23","n":84,"bf":6.5},{"id":"B23","n":86,"bf":8.6},{"id":"B23","n":87,"bf":10},
{"id":"B24","n":50,"bf":1.1},{"id":"B24","n":52,"bf":1.4},{"id":"B24","n":54,"bf":1.2},{"id":"B24","n":56,"bf":1.6},{"id":"B24","n":58,"bf":1.4},{"id":"B24","n":60,"bf":1.8},{"id":"B24","n":62,"bf":1.5},{"id":"B24","n":64,"bf":1.35},{"id":"B24","n":66,"bf":1.6},{"id":"B24","n":68,"bf":2.0},{"id":"B24","n":70,"bf":2.3},{"id":"B24","n":72,"bf":2.0},{"id":"B24","n":74,"bf":2.5},{"id":"B24","n":76,"bf":2.3},{"id":"B24","n":78,"bf":2.9},{"id":"B24","n":80,"bf":2.6},{"id":"B24","n":82,"bf":3.2},{"id":"B24","n":84,"bf":3.6},{"id":"B24","n":86,"bf":3.1},{"id":"B24","n":88,"bf":2.6},{"id":"B24","n":89,"bf":2.45},{"id":"B24","n":90,"bf":2.9},{"id":"B24","n":92,"bf":3.5},{"id":"B24","n":94,"bf":3.3},{"id":"B24","n":96,"bf":4.3},{"id":"B24","n":97,"bf":5.2},{"id":"B24","n":98,"bf":7.3},{"id":"B24","n":99,"bf":8.5},{"id":"B24","n":100,"bf":10}
],
"powerC": [{"n":19.5,"p":27.6},{"n":21,"p":29.3},{"n":22,"p":32.3},{"n":23,"p":33.5},{"n":24,"p":34.5},{"n":25,"p":36.6},{"n":26,"p":40},{"n":27,"p":41.5},{"n":28,"p":43.5},{"n":29,"p":46.2},{"n":30,"p":46.5},{"n":31,"p":47.8},{"n":32,"p":48.5},{"n":33,"p":49.2},{"n":34,"p":50.5},{"n":35,"p":53},{"n":36,"p":56.3},{"n":37,"p":57.2},{"n":38,"p":58},{"n":39,"p":58.5},{"n":40,"p":61.5},{"n":41,"p":62.5},{"n":42,"p":64.9},{"n":43,"p":66},{"n":44,"p":67.5},{"n":45,"p":69.5},{"n":46,"p":70.5},{"n":47,"p":71.5},{"n":48,"p":72.5},{"n":49,"p":73.5},{"n":50,"p":74.5},{"n":51,"p":76.1},{"n":52,"p":76.5},{"n":53,"p":77.2},{"n":54,"p":77.8},{"n":55,"p":78.5},{"n":56,"p":79.5},{"n":57,"p":80.8},{"n":58,"p":81.2},{"n":59,"p":81.8},{"n":60,"p":82.1},{"n":61,"p":83},{"n":62,"p":84},{"n":63,"p":84.4},{"n":64,"p":85.2},{"n":65,"p":85.9},{"n":66,"p":87},{"n":67,"p":87.7},{"n":68,"p":88.2},{"n":69,"p":88.6},{"n":70,"p":89.2},{"n":71,"p":89.8},{"n":72,"p":90.2},{"n":73,"p":90.6},{"n":74,"p":91.5},{"n":75,"p":92},{"n":76,"p":92.4},{"n":77,"p":93},{"n":78,"p":93.6},{"n":79,"p":94.1},{"n":80,"p":94.5},{"n":82,"p":95.2},{"n":83,"p":95.4},{"n":85,"p":96.2},{"n":87,"p":97.1},{"n":90,"p":97.3},{"n":93,"p":97.5},{"n":96,"p":98},{"n":99,"p":98.4},{"n":102,"p":98.5},{"n":105,"p":98.7},{"n":110,"p":99},{"n":115,"p":99.1},{"n":122,"p":99.2},{"n":128,"p":99.5},{"n":134,"p":99.7},{"n":138.3,"p":99.8}]
},
"hconcat": [
{
"width": 434.7, "height": 344.7,
"title": {"text": "A", "anchor": "start", "frame": "group", "dx": -84, "dy": 60, "fontSize": 19.5, "fontWeight": "bold", "font": "Liberation Sans", "color": "#000000", "offset": 4},
"layer": [
{"data": {"values": [{}]}, "mark": {"type": "rule", "color": "#b3b3b3", "strokeWidth": 1.3}, "encoding": {"x": {"datum": -20.707}, "y": {"datum": 0.0003806}, "y2": {"datum": 221.6}}},
{"data": {"values": [{}]}, "mark": {"type": "rule", "color": "#b3b3b3", "strokeWidth": 1.3}, "encoding": {"x": {"datum": -20.707}, "x2": {"datum": 646.97}, "y": {"datum": 221.6}}},
{"data": {"values": [{}]}, "mark": {"type": "rule", "color": "#b3b3b3", "strokeWidth": 1.3}, "encoding": {"x": {"datum": 646.97}, "y": {"datum": 0.0003806}, "y2": {"datum": 221.6}}},
{"data": {"name": "levelsA"}, "mark": {"type": "rule", "color": "#555555", "strokeWidth": 1, "strokeDash": [1.5, 2.5]}, "encoding": {"x": {"datum": 50}, "x2": {"datum": 219.2}, "y": {"field": "bf", "type": "quantitative"}}},
{"data": {"name": "shadeA"}, "mark": {"type": "area", "color": "#cfcfcf", "line": {"color": "#666666", "strokeWidth": 0.8}}, "encoding": {"x": {"field": "n", "type": "quantitative"}, "y": {"field": "bf", "type": "quantitative"}, "y2": {"datum": 0.1}}},
{"data": {"name": "trajA"}, "mark": {"type": "line", "color": "#6a6a6a", "strokeWidth": 0.8, "opacity": 0.55},
 "encoding": {
  "x": {"field": "n", "type": "quantitative", "scale": {"domain": [50, 269.545], "nice": false, "zero": false},
        "axis": {"values": [50, 83, 117, 150], "domainDash": [198, 3000], "offset": 62, "tickSize": 7, "labelPadding": 4, "labelFlush": false, "labelOverlap": false, "labelFontSize": 9.4, "labelColor": "#222222", "domainColor": "#333333", "tickColor": "#333333", "grid": false, "title": "Sample size", "titleFontSize": 9.4, "titleFontWeight": "normal", "titleColor": "#222222", "titleX": 173, "titleY": 33, "titleBaseline": "middle", "titleAlign": "center"}},
  "y": {"field": "bf", "type": "quantitative", "scale": {"type": "log", "domain": [0.0333333, 38.04], "nice": false},
        "axis": {"values": [0.0333333, 0.1, 0.333333, 1, 3, 10, 30], "labelExpr": "datum.value < 0.05 ? '1/30' : datum.value < 0.2 ? '1/10' : datum.value < 0.5 ? '1/3' : datum.value < 2 ? '1' : datum.value < 5 ? '3' : datum.value < 20 ? '10' : '30'", "domainDash": [333, 3000], "offset": 14, "tickSize": 7, "labelPadding": 4, "labelFlush": false, "labelOverlap": false, "labelFontSize": 9.4, "labelColor": "#222222", "domainColor": "#333333", "tickColor": "#333333", "grid": false, "title": "Bayes factor (BF₁₀)", "titleFontSize": 9.4, "titleFontWeight": "normal", "titleColor": "#222222", "titleX": -41, "titleY": 178.2, "titleAngle": 270, "titleBaseline": "middle", "titleAlign": "center"}},
  "detail": {"field": "id"}}},
{"data": {"values": [{}]}, "mark": {"type": "rule", "color": "#333333", "strokeWidth": 1.1}, "encoding": {"x": {"datum": 50}, "x2": {"datum": 150}, "y": {"datum": 10}}},
{"data": {"values": [{}]}, "mark": {"type": "rule", "color": "#333333", "strokeWidth": 1.1}, "encoding": {"x": {"datum": 50}, "x2": {"datum": 150}, "y": {"datum": 0.1}}},
{"data": {"values": [{}]}, "mark": {"type": "rule", "color": "#333333", "strokeWidth": 1.1}, "encoding": {"x": {"datum": 150}, "y": {"datum": 0.1}, "y2": {"datum": 10}}},
{"data": {"name": "violinOrange"}, "mark": {"type": "area", "orient": "horizontal", "color": "#f2a20c"}, "encoding": {"y": {"field": "bf", "type": "quantitative"}, "x": {"field": "n", "type": "quantitative"}, "x2": {"datum": 157.1}}},
{"data": {"name": "violinRed"}, "mark": {"type": "area", "orient": "horizontal", "color": "#dd0000"}, "encoding": {"y": {"field": "bf", "type": "quantitative"}, "x": {"field": "n", "type": "quantitative"}, "x2": {"datum": 157.1}}},
{"data": {"name": "dotsA"}, "mark": {"type": "circle", "color": "#000000", "size": 14, "opacity": 1}, "encoding": {"x": {"field": "n", "type": "quantitative"}, "y": {"field": "bf", "type": "quantitative"}}},
{"data": {"values": [{}]}, "mark": {"type": "text", "text": "2% stopped at H₁ boundary", "fontSize": 7.8, "align": "left", "baseline": "alphabetic", "color": "#222222"}, "encoding": {"x": {"datum": 54.9}, "y": {"datum": 10.59}}},
{"data": {"values": [{}]}, "mark": {"type": "text", "text": "74% stopped at H₀ boundary", "fontSize": 7.8, "align": "left", "baseline": "alphabetic", "color": "#222222"}, "encoding": {"x": {"datum": 55.4}, "y": {"datum": 0.083}}},
{"data": {"values": [{}]}, "mark": {"type": "text", "text": "24% stopped at nₘₐₓ boundary", "fontSize": 7.8, "align": "center", "baseline": "alphabetic", "angle": 270, "color": "#222222"}, "encoding": {"x": {"datum": 154.5}, "y": {"datum": 0.213}}},
{"data": {"values": [{}]}, "mark": {"type": "text", "text": "6.2%", "fontSize": 7.8, "align": "left", "baseline": "alphabetic", "color": "#222222"}, "encoding": {"x": {"datum": 161.6}, "y": {"datum": 0.4327}}},
{"data": {"values": [{}]}, "mark": {"type": "text", "text": "17.8%", "fontSize": 7.8, "align": "left", "baseline": "alphabetic", "color": "#222222"}, "encoding": {"x": {"datum": 167.2}, "y": {"datum": 0.1884}}},
{"data": {"name": "catA"}, "mark": {"type": "text", "fontSize": 7.8, "align": "left", "baseline": "middle", "color": "#222222"}, "encoding": {"x": {"datum": 182.3}, "y": {"field": "bf", "type": "quantitative"}, "text": {"field": "lab"}}}
]
},
{
"width": 335, "height": 325.7,
"title": {"text": "B", "anchor": "start", "frame": "group", "dx": -58.7, "dy": -5, "fontSize": 19.5, "fontWeight": "bold", "font": "Liberation Sans", "color": "#000000", "offset": 4},
"layer": [
{"data": {"name": "levelsB"}, "mark": {"type": "rule", "color": "#555555", "strokeWidth": 1, "strokeDash": [1.5, 2.5]}, "encoding": {"x": {"datum": 50}, "x2": {"datum": 198.6}, "y": {"field": "bf", "type": "quantitative"}}},
{"data": {"name": "spikesB"}, "mark": {"type": "area", "color": "#cccccc", "line": {"color": "#555555", "strokeWidth": 1}}, "encoding": {"x": {"field": "n", "type": "quantitative"}, "y": {"field": "bf", "type": "quantitative"}, "y2": {"datum": 10}}},
{"data": {"name": "trajB"}, "mark": {"type": "line", "color": "#6a6a6a", "strokeWidth": 0.8, "opacity": 0.55},
 "encoding": {
  "x": {"field": "n", "type": "quantitative", "scale": {"domain": [50, 226.97], "nice": false, "zero": false},
        "axis": {"values": [50, 83, 117, 150], "domainDash": [189.3, 3000], "offset": 87.7, "tickSize": 5.5, "labelPadding": 5, "labelFlush": false, "labelOverlap": false, "labelFontSize": 9, "labelColor": "#222222", "domainColor": "#333333", "tickColor": "#333333", "grid": false, "title": "Sample size", "titleFontSize": 9, "titleFontWeight": "normal", "titleColor": "#222222", "titleX": 165.6, "titleY": 32.3, "titleBaseline": "middle", "titleAlign": "center"}},
  "y": {"field": "bf", "type": "quantitative", "scale": {"type": "log", "domain": [0.333333, 67.1], "nice": false},
        "axis": {"values": [0.333333, 1, 3, 10, 30], "labelExpr": "datum.value < 0.5 ? '1/3' : datum.value < 2 ? '1' : datum.value < 5 ? '3' : datum.value < 20 ? '10' : '30'", "domainDash": [276.3, 3000], "offset": 13.4, "tickSize": 6, "labelPadding": 5, "labelFlush": false, "labelOverlap": false, "labelFontSize": 9, "labelColor": "#222222", "domainColor": "#333333", "tickColor": "#333333", "grid": false, "title": "Bayes factor (BF₁₀)", "titleFontSize": 9, "titleFontWeight": "normal", "titleColor": "#222222", "titleX": -40, "titleY": 195, "titleAngle": 270, "titleBaseline": "middle", "titleAlign": "center"}},
  "detail": {"field": "id"}}},
{"data": {"values": [{}]}, "mark": {"type": "rule", "color": "#444444", "strokeWidth": 1.2}, "encoding": {"x": {"datum": 50}, "x2": {"datum": 150}, "y": {"datum": 10}}},
{"data": {"values": [{}]}, "mark": {"type": "rule", "color": "#555555", "strokeWidth": 1}, "encoding": {"x": {"datum": 50}, "x2": {"datum": 150}, "y": {"datum": 0.1}}},
{"data": {"name": "dotsB"}, "mark": {"type": "circle", "color": "#000000", "size": 12, "opacity": 1}, "encoding": {"x": {"field": "n", "type": "quantitative"}, "y": {"field": "bf", "type": "quantitative"}}},
{"data": {"values": [{}]}, "mark": {"type": "text", "text": "100% stopped at H₁ boundary", "fontSize": 7.5, "align": "left", "baseline": "alphabetic", "color": "#222222"}, "encoding": {"x": {"datum": 55.3}, "y": {"datum": 10.55}}},
{"data": {"values": [{}]}, "mark": {"type": "text", "text": "0% stopped at H₀ boundary", "fontSize": 7.5, "align": "left", "baseline": "alphabetic", "color": "#222222"}, "encoding": {"x": {"datum": 54.9}, "y": {"datum": 0.0865}}},
{"data": {"name": "catB"}, "mark": {"type": "text", "fontSize": 7.5, "align": "left", "baseline": "middle", "color": "#222222"}, "encoding": {"x": {"datum": 153.5}, "y": {"field": "bf", "type": "quantitative"}, "text": {"field": "lab"}}}
]
},
{
"width": 356.6, "height": 415,
"title": {"text": "C", "anchor": "start", "frame": "group", "dx": -41.7, "dy": -26, "fontSize": 19.5, "fontWeight": "bold", "font": "Liberation Sans", "color": "#000000", "offset": 4},
"layer": [
{"data": {"name": "powerC"}, "mark": {"type": "area", "interpolate": "step-after", "color": "#88c88a"},
 "encoding": {
  "x": {"field": "n", "type": "quantitative", "scale": {"domain": [14.1, 138.8], "nice": false, "zero": false},
        "axis": {"values": [25, 50, 75, 100, 125], "labelExpr": "datum.value % 50 == 0 ? datum.label : ''", "zindex": 1, "grid": true, "gridColor": "#e8e8e8", "gridOpacity": 0.6, "gridWidth": {"condition": {"test": "datum.value % 50 == 0", "value": 0.9}, "value": 0.45}, "tickSize": 2.5, "tickColor": {"condition": {"test": "datum.value % 50 == 0", "value": "#555555"}, "value": "rgba(0,0,0,0)"}, "labelPadding": 0.5, "labelFontSize": 5.2, "labelColor": "#4d4d4d", "labelFlush": false, "labelOverlap": false, "domainColor": "#999999", "domainWidth": 1, "title": "n", "titleFontSize": 6.7, "titleFontWeight": "normal", "titleColor": "#222222", "titleX": 185.6, "titleY": 13.4, "titleBaseline": "middle", "titleAlign": "center"}},
  "y": {"field": "p", "type": "quantitative", "scale": {"domain": [-4.97, 101.8], "nice": false, "zero": false},
        "axis": {"values": [0, 12.5, 25, 37.5, 50, 62.5, 75, 87.5, 100], "labelExpr": "datum.value % 25 == 0 ? datum.value + '%' : ''", "zindex": 1, "grid": true, "gridColor": "#e8e8e8", "gridOpacity": 0.6, "gridWidth": {"condition": {"test": "datum.value % 25 == 0", "value": 0.9}, "value": 0.45}, "tickSize": 2.5, "tickColor": {"condition": {"test": "datum.value % 25 == 0", "value": "#555555"}, "value": "rgba(0,0,0,0)"}, "labelPadding": 1.5, "labelFontSize": 5.2, "labelColor": "#4d4d4d", "labelFlush": false, "labelOverlap": false, "domainColor": "#999999", "domainWidth": 1, "title": "% of studies", "titleFontSize": 6.7, "titleFontWeight": "normal", "titleColor": "#222222", "titleX": -23.4, "titleY": 200, "titleAngle": 270, "titleBaseline": "middle", "titleAlign": "center"}},
  "y2": {"datum": 0}}},
{"data": {"name": "powerC"}, "mark": {"type": "area", "interpolate": "step-after", "color": "#f08a8b"}, "encoding": {"x": {"field": "n", "type": "quantitative"}, "y": {"field": "p", "type": "quantitative"}, "y2": {"datum": 100}}},
{"data": {"values": [{}]}, "mark": {"type": "rule", "color": "#111111", "strokeWidth": 1, "strokeDash": [4, 3]}, "encoding": {"x": {"datum": 19.5}, "x2": {"datum": 73}, "y": {"datum": 90.6}}},
{"data": {"values": [{}]}, "mark": {"type": "rule", "color": "#1a1a1a", "strokeWidth": 1.2}, "encoding": {"x": {"datum": 73}, "y": {"datum": 0}, "y2": {"datum": 90.6}}},
{"data": {"values": [{}]}, "mark": {"type": "circle", "color": "#000000", "size": 40, "opacity": 1}, "encoding": {"x": {"datum": 73}, "y": {"datum": 90.6}}},
{"data": {"values": [{}]}, "mark": {"type": "text", "text": "90% power achieved at n = 73", "fontSize": 5.2, "fontWeight": "bold", "align": "left", "baseline": "alphabetic", "angle": 270, "color": "#111111"}, "encoding": {"x": {"datum": 75.3}, "y": {"datum": 68.8}}}
]
}
]
}
